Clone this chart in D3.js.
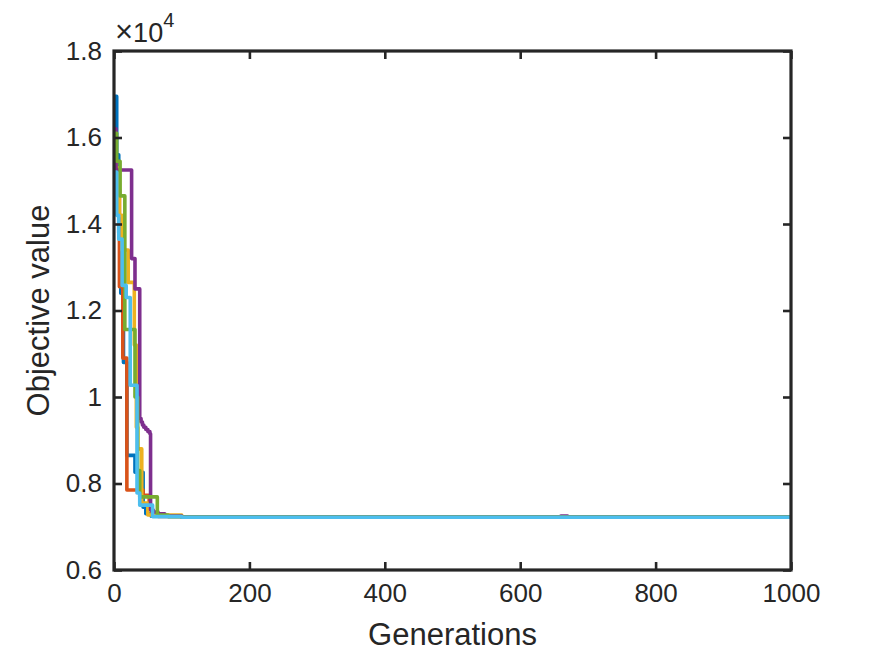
<!DOCTYPE html>
<html><head><meta charset="utf-8">
<script src="https://cdn.jsdelivr.net/npm/d3@7"></script>
<style>body{margin:0;background:#fff}svg{display:block}text{font-family:"Liberation Sans",Arial,sans-serif;fill:#262626}</style>
</head><body>
<script>
// Generations / objective values (step curves) per run
const blueGen   = [0, 4, 7, 10, 14, 19, 31, 43, 47, 55, 100, 1000];
const blueVal   = [16950, 15600, 13800, 12400, 10800, 8650, 8260, 7450, 7300, 7245, 7226, 7224];
const orangeGen = [0, 3, 8, 13, 19, 43, 52, 56, 65, 100, 1000];
const orangeVal = [15900, 14800, 12550, 10900, 7850, 7730, 7450, 7280, 7240, 7228, 7225];
const yellowGen = [0, 3, 8, 12, 21, 30, 33, 35, 41, 50, 100, 1000];
const yellowVal = [16000, 15300, 14200, 13400, 12650, 11200, 9300, 8800, 7550, 7270, 7228, 7224];
const purpleGen = [0, 3, 26, 31, 38, 40, 42, 44, 47, 50, 53, 54, 58, 65, 75, 100, 660, 670, 1000];
const purpleVal = [16200, 15250, 13200, 12500, 9500, 9420, 9350, 9300, 9250, 9200, 9150, 7385, 7340, 7300, 7250, 7230, 7250, 7228, 7226];
const greenGen  = [0, 4, 9, 16, 31, 35, 38, 64, 80, 100, 1000];
const greenVal  = [16100, 15450, 14650, 11560, 10000, 8300, 7690, 7270, 7235, 7227, 7225];
const cyanGen   = [0, 4, 7, 12, 18, 24, 34, 38, 57, 100, 1000];
const cyanVal   = [15200, 14200, 13650, 12580, 12300, 10270, 7780, 7500, 7235, 7220, 7218];
const seriesNames = ["blue", "orange", "yellow", "purple", "green", "cyan"];
const colors = ["#0072BD", "#D95319", "#EDB120", "#7E2F8E", "#77AC30", "#4DBEEE"];
const xTicks = [0, 200, 400, 600, 800, 1000];
const yTicks = [6000, 8000, 10000, 12000, 14000, 16000, 18000];
const yTickLabels = ["0.6", "0.8", "1", "1.2", "1.4", "1.6", "1.8"];

const series = [
  [blueGen, blueVal], [orangeGen, orangeVal], [yellowGen, yellowVal],
  [purpleGen, purpleVal], [greenGen, greenVal], [cyanGen, cyanVal]
].map(([g, v], i) => ({name: seriesNames[i], color: colors[i], pts: g.map((x, j) => [x, v[j]])}));

const W = 875, H = 656;
const m = {l: 114, t: 51, r: 84, b: 86};
const iw = W - m.l - m.r, ih = H - m.t - m.b;
const svg = d3.select("body").append("svg").attr("width", W).attr("height", H);
const x = d3.scaleLinear().domain([0, 1000]).range([m.l, m.l + iw]);
const y = d3.scaleLinear().domain([6000, 18000]).range([m.t + ih, m.t]);

const line = d3.line().x(d => x(d[0])).y(d => y(d[1])).curve(d3.curveStepAfter);
const g = svg.append("g");
g.append("clipPath").attr("id", "clip").append("rect").attr("x", m.l).attr("y", m.t).attr("width", iw).attr("height", ih);
g.selectAll("path.s").data(series).join("path").attr("class", "s")
  .attr("d", d => line(d.pts)).attr("fill", "none").attr("stroke", d => d.color)
  .attr("stroke-width", 3.6).attr("stroke-linejoin", "round").attr("clip-path", "url(#clip)");

const axisColor = "#262626";
const tl = 8;
const ax = svg.append("g");
const fmtY = d => yTickLabels[yTicks.indexOf(d)];
ax.append("g").attr("transform", `translate(0,${m.t + ih})`)
  .call(d3.axisBottom(x).tickValues(xTicks).tickSize(-tl).tickPadding(14).tickFormat(d3.format("d")));
ax.append("g").attr("transform", `translate(0,${m.t})`)
  .call(d3.axisTop(x).tickValues(xTicks).tickSize(-tl).tickFormat(""));
ax.append("g").attr("transform", `translate(${m.l},0)`)
  .call(d3.axisLeft(y).tickValues(yTicks).tickSize(-tl).tickPadding(12).tickFormat(fmtY));
ax.append("g").attr("transform", `translate(${m.l + iw},0)`)
  .call(d3.axisRight(y).tickValues(yTicks).tickSize(-tl).tickFormat(""));
ax.selectAll(".domain").remove();
ax.selectAll(".tick line").attr("stroke", axisColor).attr("stroke-width", 2.6);
ax.selectAll(".tick text").attr("font-size", 26).attr("fill", axisColor)
  .attr("font-family", '"Liberation Sans", Arial, sans-serif');
svg.append("rect").attr("x", m.l).attr("y", m.t).attr("width", iw).attr("height", ih)
  .attr("fill", "none").attr("stroke", axisColor).attr("stroke-width", 3.2);

svg.append("text").attr("x", m.l + iw / 2).attr("y", 645).attr("text-anchor", "middle")
  .attr("font-size", 31).text("Generations");
svg.append("text").attr("transform", `translate(49,${m.t + ih / 2}) rotate(-90)`)
  .attr("text-anchor", "middle").attr("font-size", 31).text("Objective value");
const ex = svg.append("text").attr("x", 115).attr("y", 42).attr("font-size", 27);
ex.append("tspan").attr("font-size", 31).text("×");
ex.append("tspan").text("10");
ex.append("tspan").attr("dy", -15).attr("font-size", 20).text("4");
</script>
</body></html>
